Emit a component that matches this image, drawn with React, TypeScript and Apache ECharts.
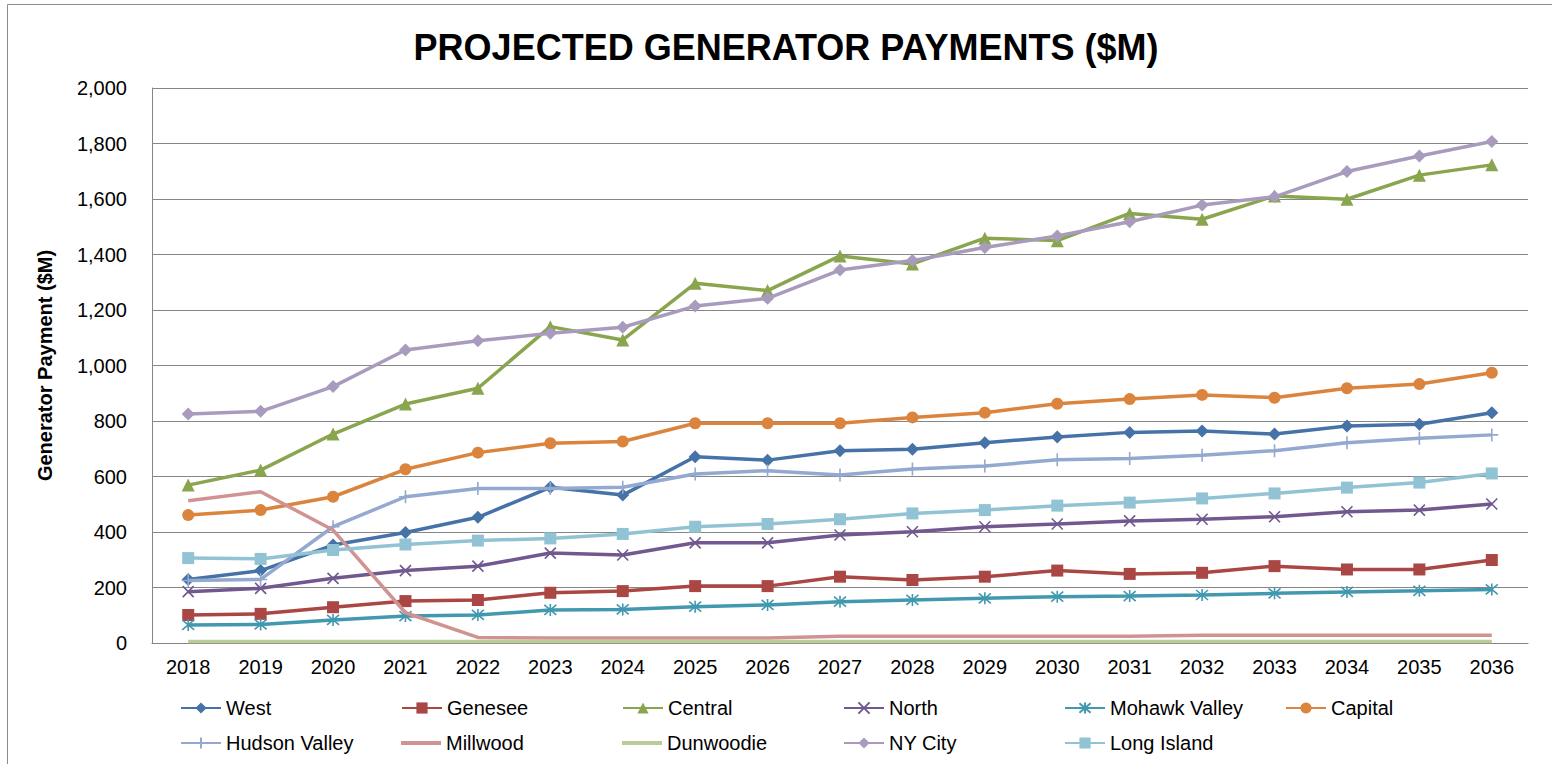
import React, { useEffect, useRef } from "react";
import * as echarts from "echarts";

const years = ["2018", "2019", "2020", "2021", "2022", "2023", "2024", "2025", "2026", "2027", "2028", "2029", "2030", "2031", "2032", "2033", "2034", "2035", "2036"];

const west = [229, 261, 353, 398, 453, 561, 533, 671, 659, 693, 698, 722, 742, 759, 764, 753, 782, 788, 830];
const genesee = [101, 105, 129, 151, 155, 181, 187, 205, 205, 239, 227, 239, 261, 249, 253, 277, 265, 265, 299];
const central = [569, 623, 753, 861, 918, 1140, 1092, 1296, 1270, 1395, 1366, 1459, 1450, 1548, 1527, 1611, 1599, 1686, 1723];
const north = [185, 197, 233, 261, 277, 324, 317, 361, 361, 389, 401, 419, 429, 440, 446, 455, 473, 479, 501];
const mohawkValley = [65, 67, 83, 97, 101, 119, 121, 131, 137, 149, 155, 161, 167, 169, 173, 179, 184, 188, 193];
const capital = [461, 479, 527, 626, 686, 720, 726, 792, 792, 792, 813, 830, 862, 879, 894, 884, 918, 933, 974];
const hudsonValley = [225, 229, 419, 527, 557, 557, 561, 609, 621, 605, 627, 638, 660, 665, 677, 693, 722, 738, 750];
const millwood = [513, 545, 407, 109, 20, 18, 18, 18, 18, 24, 24, 24, 24, 24, 28, 28, 28, 28, 28];
const dunwoodie = [5, 5, 5, 5, 5, 5, 5, 5, 5, 5, 5, 5, 5, 5, 5, 5, 5, 5, 5];
const nyCity = [825, 835, 924, 1056, 1089, 1116, 1138, 1214, 1242, 1344, 1378, 1425, 1467, 1518, 1578, 1608, 1699, 1755, 1807];
const longIsland = [306, 303, 335, 355, 369, 377, 393, 419, 429, 446, 467, 479, 495, 506, 521, 539, 560, 578, 611];

const seriesNames = ["West", "Genesee", "Central", "North", "Mohawk Valley", "Capital", "Hudson Valley", "Millwood", "Dunwoodie", "NY City", "Long Island"];

const FONT = "'Liberation Sans', Arial, Helvetica, sans-serif";
const X_PATH = "path://M0,0L10,10M10,0L0,10";
const STAR_PATH = "path://M0,0L10,10M10,0L0,10M5,-1L5,11";
const PLUS_PATH = "path://M5,0L5,10M0,5L10,5";

type Spec = { data: number[]; color: string; symbol: string; size: number; stroke?: boolean };

const specs: Spec[] = [
  { data: west, color: "#4572A7", symbol: "diamond", size: 13 },
  { data: genesee, color: "#AA4643", symbol: "rect", size: 12 },
  { data: central, color: "#89A54E", symbol: "triangle", size: 13 },
  { data: north, color: "#71588F", symbol: X_PATH, size: 11, stroke: true },
  { data: mohawkValley, color: "#4198AF", symbol: STAR_PATH, size: 12, stroke: true },
  { data: capital, color: "#DB843D", symbol: "circle", size: 12 },
  { data: hudsonValley, color: "#93A9CF", symbol: PLUS_PATH, size: 13, stroke: true },
  { data: millwood, color: "#D19392", symbol: "none", size: 0 },
  { data: dunwoodie, color: "#B9CD96", symbol: "none", size: 0 },
  { data: nyCity, color: "#A99BBD", symbol: "diamond", size: 13 },
  { data: longIsland, color: "#92C3D4", symbol: "rect", size: 12 },
];

const legendCols = [180, 401, 622, 843, 1064, 1285];
const legendRows = [698, 733];

export default function App() {
  const ref = useRef<HTMLDivElement>(null);
  useEffect(() => {
    if (!ref.current) return;
    const chart = echarts.init(ref.current, null, { renderer: "svg" });
    const series = specs.map((s, i) => ({
      name: seriesNames[i],
      type: "line",
      data: s.data,
      color: s.color,
      symbol: s.symbol,
      symbolSize: s.size,
      showSymbol: s.symbol !== "none",
      lineStyle: { width: 3.5, color: s.color },
      itemStyle: s.stroke
        ? { color: s.color, borderColor: s.color, borderWidth: 1.6 }
        : { color: s.color, borderWidth: 0 },
      emphasis: { disabled: true },
      z: 2 + i,
    }));
    const legends = seriesNames.map((n, i) => {
      const plain = specs[i].symbol === "none";
      const base: any = {
        data: [n],
        left: legendCols[i < 6 ? i : i - 6],
        top: legendRows[i < 6 ? 0 : 1],
        itemWidth: 40,
        itemHeight: plain ? 4 : 14,
        itemGap: 0,
        padding: 0,
        selectedMode: false,
        textStyle: { fontSize: 20, fontFamily: FONT, color: "#000" },
      };
      if (plain) base.icon = "rect";
      return base;
    });
    chart.setOption({
      animation: false,
      backgroundColor: "#fff",
      title: {
        text: "PROJECTED GENERATOR PAYMENTS ($M)",
        left: 781,
        top: 24,
        textAlign: "center",
        textStyle: { fontSize: 36, fontWeight: "bold", color: "#000", fontFamily: FONT },
      },
      graphic: [
        {
          type: "rect",
          shape: { x: 7.5, y: 4.5, width: 1700, height: 900 },
          style: { fill: "none", stroke: "#8c8c8c", lineWidth: 1 },
          silent: true,
        },
      ],
      legend: legends,
      grid: { left: 152, right: 24, top: 88, bottom: 121, containLabel: false },
      xAxis: {
        type: "category",
        data: years,
        boundaryGap: true,
        axisLine: { show: true, lineStyle: { color: "#868686", width: 1 } },
        axisTick: { show: false },
        axisLabel: { fontSize: 20, color: "#000", margin: 14, fontFamily: FONT },
        splitLine: { show: false },
      },
      yAxis: {
        type: "value",
        min: 0,
        max: 2000,
        interval: 200,
        name: "Generator Payment ($M)",
        nameLocation: "middle",
        nameGap: 97,
        nameTextStyle: { fontSize: 20, fontWeight: "bold", color: "#000", fontFamily: FONT },
        axisLine: { show: true, lineStyle: { color: "#868686", width: 1 } },
        axisTick: { show: false },
        axisLabel: {
          fontSize: 20,
          color: "#000",
          margin: 25,
          fontFamily: FONT,
          formatter: (v: number) => v.toLocaleString("en-US"),
        },
        splitLine: { show: true, lineStyle: { color: "#868686", width: 1 } },
      },
      series,
    });
    return () => chart.dispose();
  }, []);
  return <div ref={ref} style={{ position: "absolute", left: 0, top: 0, width: 1552, height: 764 }} />;
}
